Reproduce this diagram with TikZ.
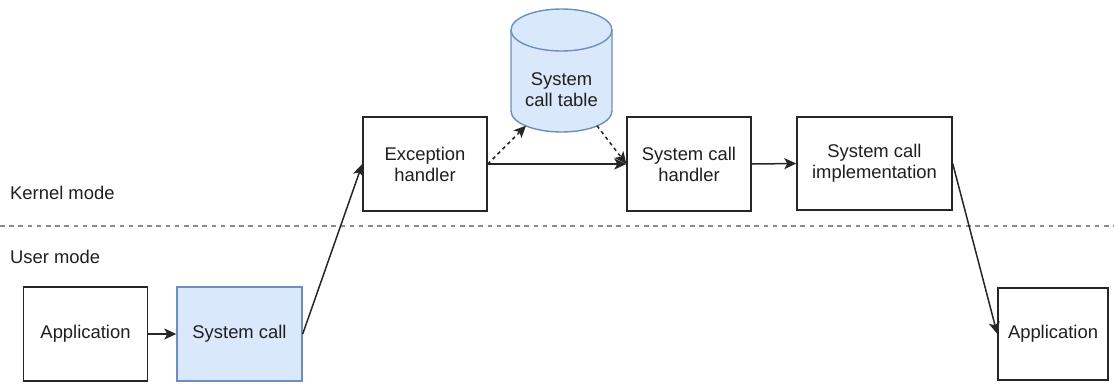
\documentclass[tikz,border=0pt]{standalone}
\usepackage{fontspec}
\setmainfont{Liberation Sans}
\usetikzlibrary{arrows.meta,calc}

\definecolor{boxline}{HTML}{262626}
\definecolor{bluefill}{HTML}{DAE8FC}
\definecolor{blueline}{HTML}{6C8EBF}
\definecolor{sepline}{HTML}{8C8C8C}
\definecolor{txt}{HTML}{1F1F1F}

\tikzset{
  >={Stealth[length=12pt,width=11pt,inset=3pt]},
  stage/.style={draw=boxline, line width=1.4pt, fill=white, rectangle,
    align=center, text=txt, inner sep=0pt,
    font=\fontsize{18.4}{21}\selectfont},
  bluestage/.style={stage, draw=blueline, fill=bluefill},
  flow/.style={->, draw=boxline, line width=1.5pt},
  lookup/.style={flow, dash pattern=on 3.5pt off 3.5pt},
  modelabel/.style={anchor=west, text=txt, inner sep=0pt,
    font=\fontsize{18.4}{21}\selectfont},
  plaintext/.style={align=center, text=txt, inner sep=0pt,
    font=\fontsize{18.4}{21}\selectfont},
}

\begin{document}
\begin{tikzpicture}[x=1pt, y=-1pt]
\useasboundingbox (0,0) rectangle (1114,384);

% privilege boundary
\coordinate (sepL) at (0,226);
\coordinate (sepR) at (1114,226);
\draw[sepline, line width=1.6pt, dash pattern=on 4.6pt off 4.6pt] (sepL) -- (sepR);
\node[modelabel] (kernel) at (10,193) {Kernel mode};
\node[modelabel] (user) at (10,257) {User mode};

% user-space steps
\node[stage, minimum width=124pt, minimum height=94pt] (app) at (85.5,334) {Application};
\node[bluestage, minimum width=125pt, minimum height=94pt] (sys) at (239.5,334) {System call};
\node[stage, minimum width=110pt, minimum height=92pt] (ret) at (1053,334) {Application};

% kernel-space steps
\node[stage, minimum width=124pt, minimum height=94pt] (exc) at (425,164) {Exception\\handler};
\node[stage, minimum width=124pt, minimum height=94pt] (hdl) at (689,164) {System call\\handler};
\node[stage, minimum width=155pt, minimum height=93pt] (impl) at (874.5,163.5) {System call\\implementation};

% dispatch table (cylinder: body, then the front rim of the lid)
\path[fill=bluefill, draw=blueline, line width=1.4pt]
  (511,30) -- (511,111)
  arc[start angle=180, end angle=0, x radius=50.5, y radius=21]
  -- (612,30)
  arc[start angle=0, end angle=-180, x radius=50.5, y radius=21] -- cycle;
\draw[blueline, line width=1.4pt]
  (511,30) arc[start angle=180, end angle=0, x radius=50.5, y radius=21];
\node[plaintext] (tbl) at (561.5,89.5) {System\\call table};
\coordinate (tblIn) at (526,125.7);
\coordinate (tblOut) at (597,125.7);

% control flow
\draw[flow] (app.east) -- (sys.west);
\draw[flow] (sys.east) -- (exc.west);
\draw[flow] (exc.east) -- (hdl.west);
\draw[lookup] (exc.east) -- (tblIn);
\draw[lookup] (tblOut) -- (hdl.west);
\draw[flow] (hdl.east) -- (impl.west);
\draw[flow] (impl.east) -- (ret.west);
\end{tikzpicture}
\end{document}
